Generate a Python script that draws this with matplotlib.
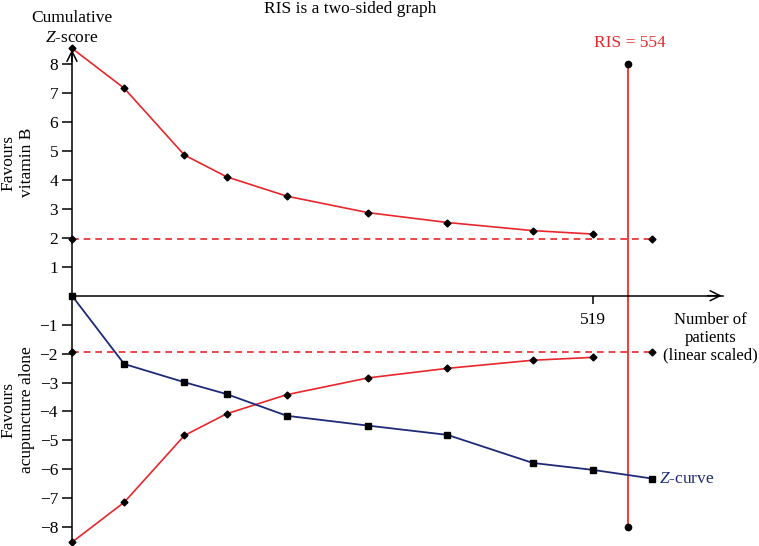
import matplotlib.pyplot as plt

plt.rcParams['font.family'] = ['Liberation Serif', 'DejaVu Serif']
plt.rcParams['font.size'] = 12.5
plt.rcParams['mathtext.fontset'] = 'custom'
plt.rcParams['mathtext.it'] = 'Liberation Serif:italic'
plt.rcParams['mathtext.rm'] = 'Liberation Serif'

# cumulative number of patients at each trial
patients = [0, 52, 112, 154, 214, 295, 374, 459, 519, 578]
z_curve = [0, -2.36, -2.99, -3.40, -4.15, -4.49, -4.81, -5.78, -6.02, -6.32]

# monitoring boundaries (two-sided)
bound_x = [0, 52, 112, 154, 214, 295, 374, 459, 519]
upper_bound = [8.55, 7.17, 4.86, 4.11, 3.44, 2.87, 2.53, 2.25, 2.13]
lower_bound = [-8.52, -7.14, -4.83, -4.08, -3.42, -2.84, -2.51, -2.23, -2.13]

conv_x = [0, 578]
conv_z = 1.96
ris = 554
yticks = [-8, -7, -6, -5, -4, -3, -2, -1, 1, 2, 3, 4, 5, 6, 7, 8]
xticks = [519]

red = '#e8262b'
navy = '#1c2a78'

fig = plt.figure(figsize=(7.59, 5.46), dpi=100)
ax = fig.add_axes([0, 0, 1, 1])
ax.patch.set_alpha(0)
ax.set_xlim(-71.7, 684.3)
ax.set_ylim(-8.65, 10.22)

for s in ['top', 'right']:
    ax.spines[s].set_visible(False)
ax.spines['left'].set_position(('data', 0))
ax.spines['bottom'].set_position(('data', 0))
ax.spines['left'].set_bounds(-8.5, 8.5)
ax.spines['bottom'].set_bounds(0, 648)
ax.spines['left'].set_linewidth(1.1)
ax.spines['bottom'].set_linewidth(1.1)

ax.annotate('', xy=(650, 0), xytext=(630, 0),
            arrowprops=dict(arrowstyle='->', lw=1.1, color='black', mutation_scale=18))
ax.annotate('', xy=(0, 8.6), xytext=(0, 8.0),
            arrowprops=dict(arrowstyle='->', lw=1.1, color='black', mutation_scale=18))

ax.set_yticks(yticks)
ax.set_yticklabels([str(v).replace('-', '\u2212') for v in yticks])
ax.set_xticks(xticks)
ax.tick_params(axis='y', direction='out', length=7, width=1.1, pad=3, labelsize=12.5)
ax.tick_params(axis='x', direction='out', length=6, width=1.1, pad=6, labelsize=12.5)

# conventional boundaries
for sign in (1, -1):
    ax.plot(conv_x, [sign * conv_z] * 2, color=red, lw=1.2, ls=(0, (4, 3)),
            marker='D', ms=3.5, mfc='black', mec='black', zorder=3)

# monitoring boundaries
ax.plot(bound_x, upper_bound, color=red, lw=1.2, marker='D', ms=3.5,
        mfc='black', mec='black', zorder=3)
ax.plot(bound_x, lower_bound, color=red, lw=1.2, marker='D', ms=3.5,
        mfc='black', mec='black', zorder=3)

# RIS line
ax.plot([ris, ris], [8, -8], color='#e84545', lw=1.5, marker='o', ms=4.5,
        mfc='black', mec='black', zorder=2)
ax.text(ris + 2, 8.45, 'RIS = 554', color=red, ha='center', va='bottom')

# Z-curve
ax.plot(patients, z_curve, color=navy, lw=1.3, marker='s', ms=5,
        mfc='black', mec='black', zorder=4)
ax.text(585, -6.32, '$Z$-curve', color=navy, ha='left', va='center')

# labels
ax.text(0, 9.6, 'Cumulative', ha='center', va='center')
ax.text(0, 8.92, '$Z$-score', ha='center', va='center')
ax.text(277, 9.92, 'RIS is a two-sided graph', ha='center', va='center')
ax.text(636, -1.45, 'Number of\npatients\n(linear scaled)', ha='center', va='center',
        linespacing=1.15, fontsize=12)
ax.text(-54, 4.6, 'Favours\nvitamin B', ha='center', va='center', rotation=90,
        linespacing=1.15)
ax.text(-54, -3.95, 'Favours\nacupuncture alone', ha='center', va='center', rotation=90,
        linespacing=1.15)

fig.savefig('out.png', dpi=100)
